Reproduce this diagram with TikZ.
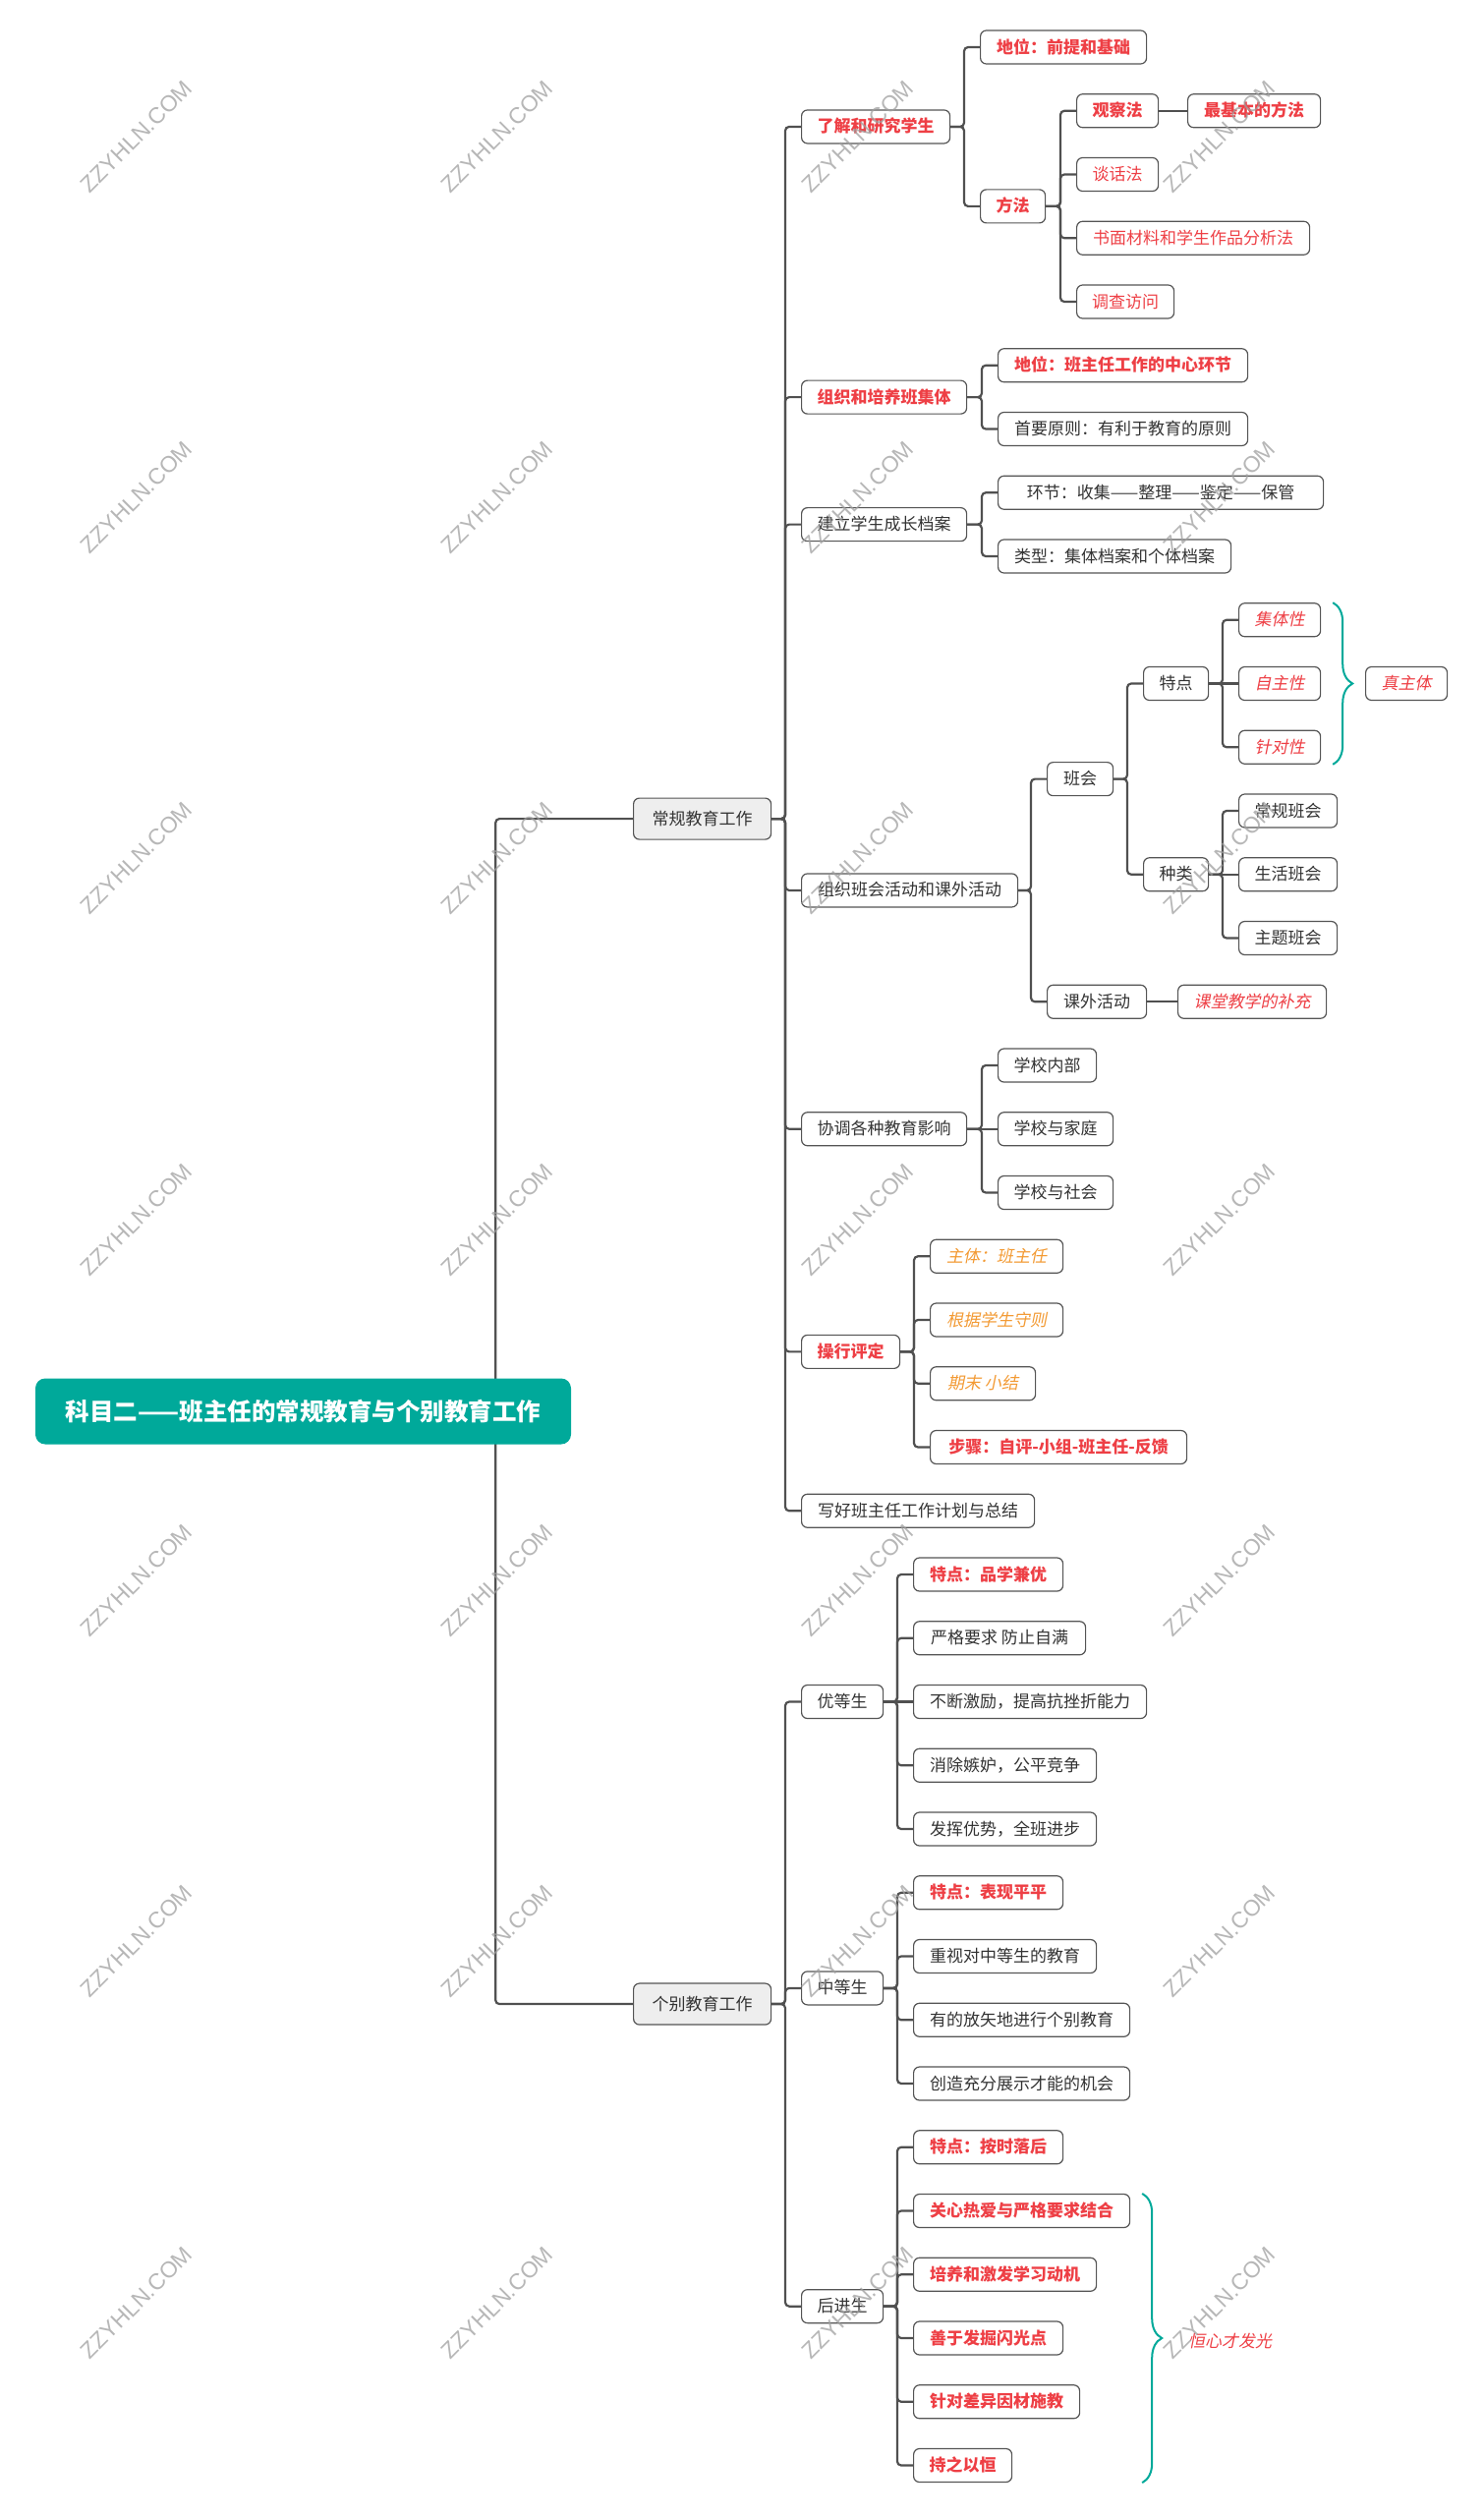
\documentclass[tikz,border=0pt]{standalone}
\usepackage{fontspec}
\setmainfont{Noto Sans CJK SC}
\newfontfamily\cjkit{Noto Sans CJK SC}[FakeSlant=0.2]
\newfontfamily\wmfont{Liberation Sans}
\usetikzlibrary{decorations.pathreplacing}
\definecolor{txtc}{HTML}{333333}
\definecolor{redc}{HTML}{EE3F45}
\definecolor{orgc}{HTML}{F39A33}
\definecolor{tealc}{HTML}{00A99A}
\definecolor{bordc}{HTML}{555555}
\definecolor{linec}{HTML}{505050}
\definecolor{lightg}{HTML}{EEEEEE}
\pgfdeclarelayer{bg}
\pgfsetlayers{bg,main}
\newcommand{\fs}{\fontsize{17}{20}\selectfont}
\newcommand{\nd}[6]{\node[#1, minimum width=#3pt] (#2) at (#4,{48+64.75*(#5)}) {#6};}
\tikzset{
  base/.style={draw=bordc, line width=1.2pt, rounded corners=6pt, fill=white, anchor=west,
    minimum height=34pt, inner xsep=8pt, inner ysep=0pt, text height=14.5pt, text depth=2.5pt,
    font=\fs, text=txtc},
  nb/.style={base},
  rb/.style={base, text=redc, font=\fs\bfseries},
  rn/.style={base, text=redc},
  ri/.style={base, text=redc, font=\fs\cjkit},
  oi/.style={base, text=orgc, font=\fs\cjkit},
  lvl1/.style={base, fill=lightg, minimum height=42pt},
  titlebox/.style={fill=tealc, rounded corners=10pt, minimum width=545pt, minimum height=67pt,
    text=white, font=\fontsize{24.5}{28}\selectfont\bfseries, inner sep=0pt},
  conn/.style={draw=linec, line width=2.2pt, rounded corners=4pt},
  sconn/.style={draw=linec, line width=2.2pt},
  brc/.style={draw=tealc, line width=2pt, decorate, decoration={brace, amplitude=20pt}},
  wm/.style={text=gray!75, opacity=0.75, font=\wmfont\fontsize{23}{26}\selectfont, rotate=45},
}
\begin{document}
\begin{tikzpicture}[x=1pt, y=-1pt]
\useasboundingbox (0,0) rectangle (1510,2560);
% root
\node[titlebox] (T) at (308.5,1436) {科目二——班主任的常规教育与个别教育工作};
\node[lvl1, minimum width=140pt] (cg) at (644,{48+64.75*12.125}) {常规教育工作};
\node[lvl1, minimum width=140pt] (gb) at (644,{48+64.75*30.75}) {个别教育工作};
% 常规教育工作
\nd{rb}{a1}{151}{815}{1.25}{了解和研究学生}
\nd{rb}{a11}{169}{997}{0}{地位：前提和基础}
\nd{rb}{a12}{66}{997}{2.5}{方法}
\nd{rb}{a121}{83}{1095}{1}{观察法}
\nd{rb}{a1211}{135}{1208}{1}{最基本的方法}
\nd{rn}{a122}{83}{1095}{2}{谈话法}
\nd{rn}{a123}{237}{1095}{3}{书面材料和学生作品分析法}
\nd{rn}{a124}{99}{1095}{4}{调查访问}
\nd{rb}{a2}{168}{815}{5.5}{组织和培养班集体}
\nd{rb}{a21}{254}{1015}{5}{地位：班主任工作的中心环节}
\nd{nb}{a22}{254}{1015}{6}{首要原则：有利于教育的原则}
\nd{nb}{a3}{168}{815}{7.5}{建立学生成长档案}
\nd{nb}{a31}{331}{1015}{7}{环节：收集——整理——鉴定——保管}
\nd{nb}{a32}{237}{1015}{8}{类型：集体档案和个体档案}
\nd{nb}{a4}{220}{815}{13.25}{组织班会活动和课外活动}
\nd{nb}{a41}{67}{1065}{11.5}{班会}
\nd{nb}{a411}{66}{1163}{10}{特点}
\nd{ri}{a4111}{83}{1260}{9}{集体性}
\nd{ri}{a4112}{83}{1260}{10}{自主性}
\nd{ri}{a4113}{83}{1260}{11}{针对性}
\nd{ri}{zt}{83}{1389}{10}{真主体}
\nd{nb}{a412}{66}{1163}{13}{种类}
\nd{nb}{a4121}{100}{1260}{12}{常规班会}
\nd{nb}{a4122}{100}{1260}{13}{生活班会}
\nd{nb}{a4123}{100}{1260}{14}{主题班会}
\nd{nb}{a42}{101}{1065}{15}{课外活动}
\nd{ri}{a421}{151}{1198}{15}{课堂教学的补充}
\nd{nb}{a5}{168}{815}{17}{协调各种教育影响}
\nd{nb}{a51}{100}{1015}{16}{学校内部}
\nd{nb}{a52}{117}{1015}{17}{学校与家庭}
\nd{nb}{a53}{117}{1015}{18}{学校与社会}
\nd{rb}{a6}{100}{815}{20.5}{操行评定}
\nd{oi}{a61}{135}{946}{19}{主体：班主任}
\nd{oi}{a62}{135}{946}{20}{根据学生守则}
\nd{oi}{a63}{107}{946}{21}{期末 小结}
\nd{rb}{a64}{261}{946}{22}{步骤：自评-小组-班主任-反馈}
\nd{nb}{a7}{237}{815}{23}{写好班主任工作计划与总结}
% 个别教育工作
\nd{nb}{b1}{83}{815}{26}{优等生}
\nd{rb}{b11}{152}{929}{24}{特点：品学兼优}
\nd{nb}{b12}{175}{929}{25}{严格要求 防止自满}
\nd{nb}{b13}{237}{929}{26}{不断激励，提高抗挫折能力}
\nd{nb}{b14}{186}{929}{27}{消除嫉妒，公平竞争}
\nd{nb}{b15}{186}{929}{28}{发挥优势，全班进步}
\nd{nb}{b2}{83}{815}{30.5}{中等生}
\nd{rb}{b21}{152}{929}{29}{特点：表现平平}
\nd{nb}{b22}{186}{929}{30}{重视对中等生的教育}
\nd{nb}{b23}{220}{929}{31}{有的放矢地进行个别教育}
\nd{nb}{b24}{220}{929}{32}{创造充分展示才能的机会}
\nd{nb}{b3}{83}{815}{35.5}{后进生}
\nd{rb}{b31}{152}{929}{33}{特点：按时落后}
\nd{rb}{b32}{220}{929}{34}{关心热爱与严格要求结合}
\nd{rb}{b33}{186}{929}{35}{培养和激发学习动机}
\nd{rb}{b34}{152}{929}{36}{善于发掘闪光点}
\nd{rb}{b35}{169}{929}{37}{针对差异因材施教}
\nd{rb}{b36}{100}{929}{38}{持之以恒}
\node[anchor=west, text=redc, font=\fs\cjkit, inner sep=0pt] (hx) at (1209,2382) {恒心才发光};
% connectors
\begin{pgfonlayer}{bg}
\draw[conn] ([xshift=-77pt]T.east) |- (cg.west);
\draw[conn] ([xshift=-77pt]T.east) |- (gb.west);
\foreach \p/\c in {cg/a1,cg/a2,cg/a3,cg/a4,cg/a5,cg/a6,cg/a7,
  a1/a11,a1/a12,a12/a121,a12/a122,a12/a123,a12/a124,
  a2/a21,a2/a22,a3/a31,a3/a32,a4/a41,a4/a42,a41/a411,a41/a412,
  a411/a4111,a411/a4113,a412/a4121,a412/a4123,
  a5/a51,a5/a53,a6/a61,a6/a62,a6/a63,a6/a64,
  gb/b1,gb/b2,gb/b3,b1/b11,b1/b12,b1/b14,b1/b15,
  b2/b21,b2/b22,b2/b23,b2/b24,b3/b31,b3/b32,b3/b33,b3/b34,b3/b35,b3/b36}
  \draw[conn] (\p.east) -| ([xshift=-16pt]\c.west) -- (\c.west);
\foreach \p/\c in {a121/a1211,a411/a4112,a412/a4122,a42/a421,a5/a52,b1/b13}
  \draw[sconn] (\p.east) -- (\c.west);
\end{pgfonlayer}
% braces
\draw[brc] ([xshift=12pt]a4111.north east) -- ([xshift=12pt]a4113.south east);
\draw[brc] ([xshift=12pt]b32.north east) -- ([xshift=12pt]b32.east |- b36.south);
% watermarks
\foreach \x in {139,506,873,1241}
  \foreach \y in {139,506,873,1241,1608,1975,2343}
    \node[wm] (w\x-\y) at (\x,\y) {ZZYHLN.COM};
\end{tikzpicture}
\end{document}
